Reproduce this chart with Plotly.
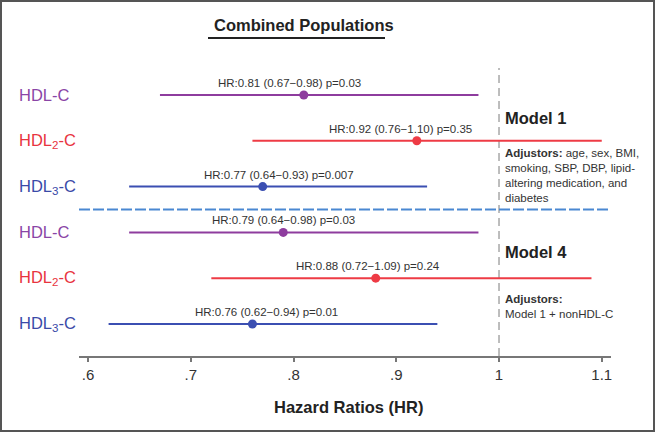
import plotly.graph_objects as go

# ---- data ----
markers = ["HDL-C", "HDL<sub>2</sub>-C", "HDL<sub>3</sub>-C"]
models = ["Model 1", "Model 4"]
hr_model1 = [0.81, 0.92, 0.77]
lo_model1 = [0.67, 0.76, 0.64]
hi_model1 = [0.98, 1.10, 0.93]
p_model1 = ["0.03", "0.35", "0.007"]
hr_model4 = [0.79, 0.88, 0.76]
lo_model4 = [0.64, 0.72, 0.62]
hi_model4 = [0.98, 1.09, 0.94]
p_model4 = ["0.03", "0.24", "0.01"]
tick_vals = [0.6, 0.7, 0.8, 0.9, 1.0, 1.1]
tick_text = [".6", ".7", ".8", ".9", "1", "1.1"]

# ---- styling ----
colors = ["#8e3c9e", "#ee3b45", "#3b4fb2"]
label_colors = ["#8a45a6", "#e8343f", "#3a4aa8"]
label_dx = [-14, -16, 16, 0, -8, 14]
W, H = 655, 432
ML, MR, MT, MB = 79, 44, 68, 76
PW, PH = W - ML - MR, H - MT - MB
FONT = "Liberation Sans, Arial, Helvetica, sans-serif"


def px(x):
    return (x - ML) / PW


def py(y):
    return (H - MB - y) / PH


fig = go.Figure()
rows = []
for m, (hr, lo, hi, pv) in enumerate([(hr_model1, lo_model1, hi_model1, p_model1),
                                      (hr_model4, lo_model4, hi_model4, p_model4)]):
    for i in range(3):
        rows.append((m, i, hr[i], lo[i], hi[i], pv[i]))

n = len(rows)
annotations = []
for k, (m, i, hr, lo, hi, pv) in enumerate(rows):
    yv = n - k
    fig.add_trace(go.Scatter(x=[lo, hi], y=[yv, yv], mode="lines",
                             line=dict(color=colors[i], width=2),
                             showlegend=False, hoverinfo="skip"))
    fig.add_trace(go.Scatter(x=[hr], y=[yv], mode="markers",
                             marker=dict(color=colors[i], size=9),
                             showlegend=False))
    annotations.append(dict(x=hr, y=yv, xref="x", yref="y",
                            text=f"HR:{hr:.2f} ({lo:.2f}\u2212{hi:.2f}) p={pv}",
                            showarrow=False, yshift=12, xshift=label_dx[k],
                            font=dict(size=11.5, color="#333", family=FONT)))
    annotations.append(dict(x=px(17), y=yv, xref="paper", yref="y",
                            text=markers[i], showarrow=False,
                            xanchor="left", yanchor="middle",
                            font=dict(size=16.5, color=label_colors[i], family=FONT)))

# title
annotations.append(dict(x=px(304), y=py(25), xref="paper", yref="paper",
                        text="<b>Combined Populations</b>", showarrow=False,
                        xanchor="center", yanchor="middle",
                        font=dict(size=16.5, color="#222", family=FONT)))
# axis title
annotations.append(dict(x=px(348), y=py(407), xref="paper", yref="paper",
                        text="<b>Hazard Ratios (HR)</b>", showarrow=False,
                        xanchor="center", yanchor="middle",
                        font=dict(size=16.5, color="#222", family=FONT)))
# model text
annotations.append(dict(x=px(503), y=py(118), xref="paper", yref="paper",
                        text="<b>Model 1</b>", showarrow=False,
                        xanchor="left", yanchor="middle",
                        font=dict(size=16.5, color="#222", family=FONT)))
annotations.append(dict(x=px(503), y=py(145), xref="paper", yref="paper",
                        text="<b>Adjustors:</b> age, sex, BMI,<br>smoking, SBP, DBP, lipid-<br>altering medication, and<br>diabetes",
                        showarrow=False, xanchor="left", yanchor="top", align="left",
                        font=dict(size=11.5, color="#333", family=FONT)))
annotations.append(dict(x=px(503), y=py(252), xref="paper", yref="paper",
                        text="<b>Model 4</b>", showarrow=False,
                        xanchor="left", yanchor="middle",
                        font=dict(size=16.5, color="#222", family=FONT)))
annotations.append(dict(x=px(503), y=py(291), xref="paper", yref="paper",
                        text="<b>Adjustors:</b><br>Model 1 + nonHDL-C",
                        showarrow=False, xanchor="left", yanchor="top", align="left",
                        font=dict(size=11.5, color="#333", family=FONT)))

shapes = [
    # reference line at HR = 1
    dict(type="line", xref="x", yref="paper", x0=1, x1=1, y0=0, y1=1,
         line=dict(color="#a8a8a8", width=1.5, dash="8px,5px"), layer="below"),
    # separator between models
    dict(type="line", xref="paper", yref="y", x0=0, x1=1, y0=n / 2 + 0.5, y1=n / 2 + 0.5,
         line=dict(color="#4a88d2", width=2, dash="11px,3px")),
    # title underline
    dict(type="line", xref="paper", yref="paper", x0=px(208), x1=px(385),
         y0=py(38), y1=py(38), line=dict(color="#222", width=2)),
    # outer frame
    dict(type="rect", xref="paper", yref="paper", x0=px(1), x1=px(654),
         y0=py(1), y1=py(431), line=dict(color="#555", width=2)),
]

fig.update_layout(
    width=W, height=H,
    margin=dict(l=ML, r=MR, t=MT, b=MB),
    paper_bgcolor="white", plot_bgcolor="white",
    showlegend=False,
    annotations=annotations,
    shapes=shapes,
    xaxis=dict(range=[0.5912, 1.109], tickvals=tick_vals, ticktext=tick_text,
               showgrid=False, zeroline=False, showline=True,
               linecolor="#777", linewidth=1.5, ticks="outside", ticklen=4,
               tickcolor="#777", tickwidth=1.5,
               tickfont=dict(size=15, color="#333", family=FONT)),
    yaxis=dict(range=[0.301, 6.589], showgrid=False, zeroline=False,
               showticklabels=False, showline=False),
)

fig.write_html("out.html", config={"displayModeBar": False},
               post_script="document.body.style.margin='0';document.body.style.overflow='hidden';")
